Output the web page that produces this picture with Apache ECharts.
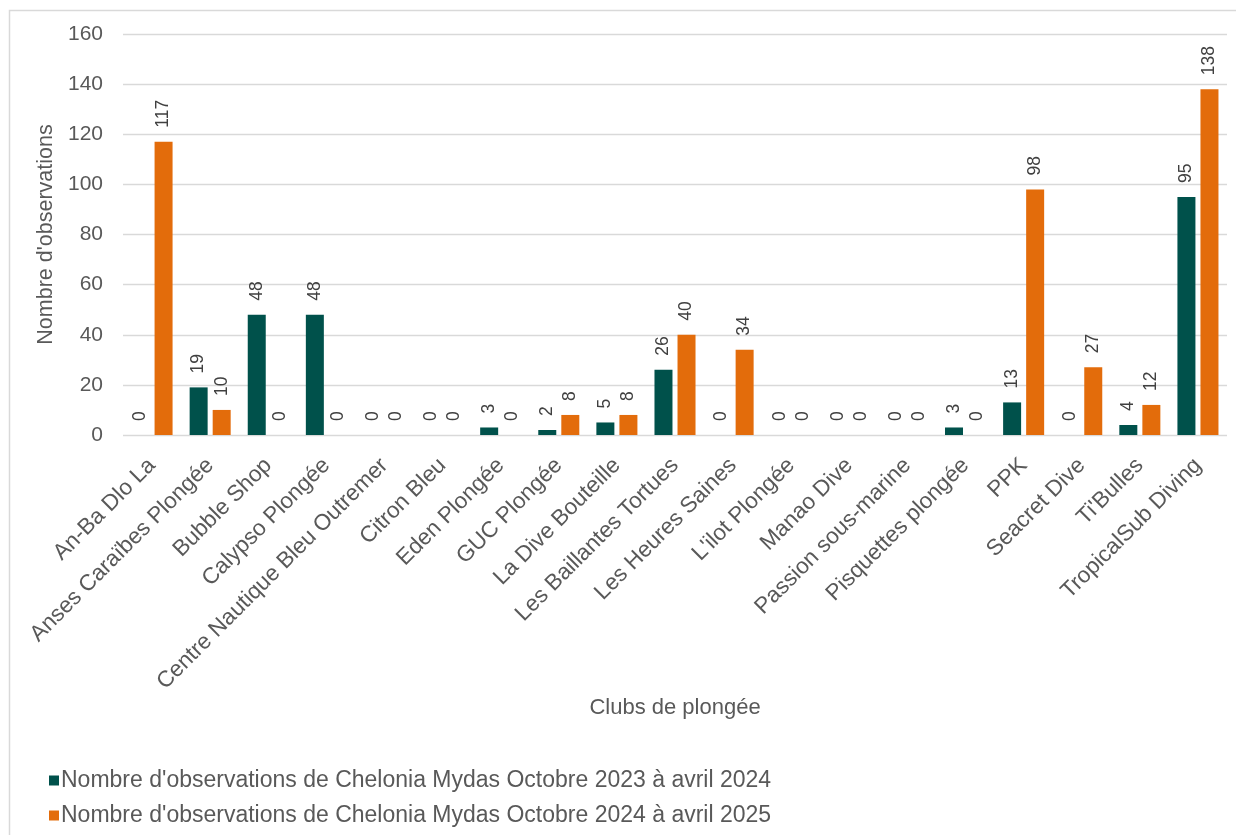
<!DOCTYPE html>
<html><head><meta charset="utf-8">
<script src="https://cdn.jsdelivr.net/npm/echarts@6/dist/echarts.min.js"></script>
<style>html,body{margin:0;padding:0;background:#fff}#c{width:1236px;height:835px}</style>
</head><body><div id="c"></div>
<script>
const categories = ["An-Ba Dlo La","Anses Caraïbes Plongée","Bubble Shop","Calypso Plongée","Centre Nautique Bleu Outremer","Citron Bleu","Eden Plongée","GUC Plongée","La Dive Bouteille","Les Baillantes Tortues","Les Heures Saines","L'ilot Plongée","Manao Dive","Passion sous-marine","Pisquettes plongée","PPK","Seacret Dive","Ti'Bulles","TropicalSub Diving"];
const series2023 = [0,19,48,48,0,0,3,2,5,26,0,0,0,0,3,13,0,4,95];
const series2025 = [117,10,0,0,0,0,0,8,8,40,34,0,0,0,0,98,27,12,138];
const seriesNames = ["Nombre d'observations de Chelonia Mydas Octobre 2023 à avril 2024","Nombre d'observations de Chelonia Mydas Octobre 2024 à avril 2025"];
const yTicks = {min:0, max:160, interval:20};
const font = "'Liberation Sans', Arial, sans-serif";
const chart = echarts.init(document.getElementById('c'), null, {renderer:'canvas'});
const lbl = {show:true, position:'top', rotate:90, align:'left', verticalAlign:'middle', distance:14, color:'#404040', fontSize:17.5, fontFamily:font};
chart.setOption({
  animation:false,
  backgroundColor:'#fff',
  graphic:[{type:'rect', shape:{x:9.5,y:10.5,width:1300,height:900}, style:{fill:'none', stroke:'#d9d9d9', lineWidth:1.5}, silent:true, z:-1}],
  grid:{left:123, right:9, top:34, bottom:400},
  legend:{orient:'vertical', left:44, top:764, itemWidth:10, itemHeight:10, itemGap:12, icon:'rect',
    textStyle:{fontSize:23, color:'#595959', fontFamily:font, padding:[0,0,0,-3]}},
  xAxis:{type:'category', data:categories,
    name:'Clubs de plongée', nameLocation:'middle', nameGap:258,
    nameTextStyle:{fontSize:22, color:'#595959', fontFamily:font},
    axisLine:{show:false}, axisTick:{show:false},
    axisLabel:{rotate:45, interval:0, fontSize:22.5, color:'#595959', fontFamily:font, margin:27}},
  yAxis:{type:'value', min:yTicks.min, max:yTicks.max, interval:yTicks.interval,
    name:"Nombre d'observations", nameLocation:'middle', nameGap:60,
    nameTextStyle:{fontSize:21.5, color:'#595959', fontFamily:font},
    axisLabel:{fontSize:21, color:'#595959', fontFamily:font, margin:20},
    splitLine:{lineStyle:{color:'#d9d9d9', width:1.3}}},
  series:[
    {name:seriesNames[0], type:'bar', data:series2023, barWidth:18, barGap:'28%', itemStyle:{color:'#00514B'}, label:lbl},
    {name:seriesNames[1], type:'bar', data:series2025, barWidth:18, barGap:'28%', itemStyle:{color:'#E36C0B'}, label:lbl}
  ]
});
</script></body></html>
